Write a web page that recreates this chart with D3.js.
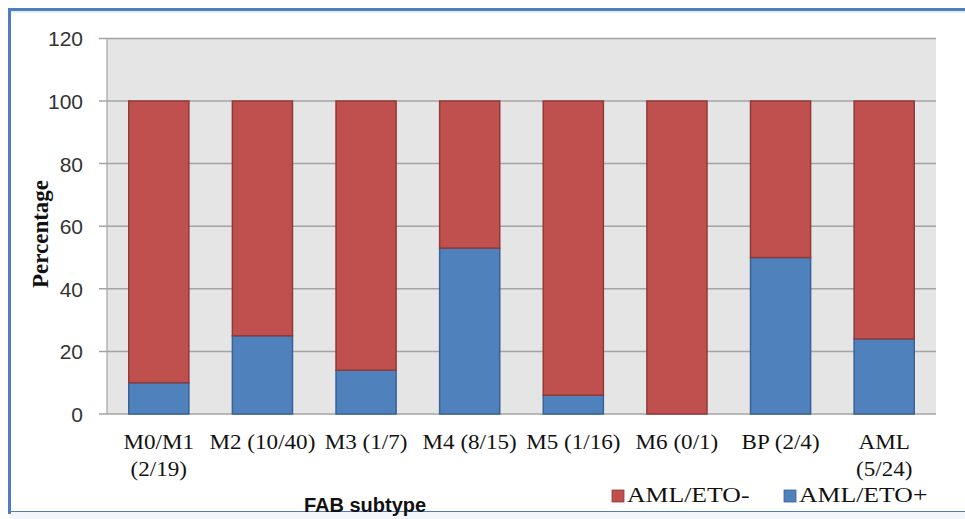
<!DOCTYPE html>
<html>
<head>
<meta charset="utf-8">
<script src="https://cdn.jsdelivr.net/npm/d3@7"></script>
<style>
  html, body { margin: 0; padding: 0; background: #ffffff; }
  svg { display: block; }
</style>
</head>
<body>
<svg id="chart" width="965" height="519"></svg>
<script>
// FAB subtypes with AML/ETO positive count over total
const categories = ["M0/M1|(2/19)", "M2 (10/40)", "M3 (1/7)", "M4 (8/15)", "M5 (1/16)", "M6 (0/1)", "BP (2/4)", "AML|(5/24)"];
// percentage of AML/ETO+ cases per subtype
const positive = [10, 25, 14, 53, 6, 0, 50, 24];
// percentage of AML/ETO- cases per subtype
const negative = [90, 75, 86, 47, 94, 100, 50, 76];
const yTicks = [0, 20, 40, 60, 80, 100, 120];
const seriesNames = ["AML/ETO-", "AML/ETO+"];

const colors = { "AML/ETO+": "#4F81BD", "AML/ETO-": "#C0504D" };
const strokes = { "AML/ETO+": "#3B6294", "AML/ETO-": "#8E3B39" };

const svg = d3.select("#chart");
const W = 965, H = 519;
const plot = { left: 107, right: 936, top: 38.4, bottom: 414 };

// outer frame
svg.append("rect").attr("x", 0).attr("y", 0).attr("width", W).attr("height", H).attr("fill", "#ffffff");
svg.append("rect")
  .attr("x", 9.5).attr("y", 9.5).attr("width", W + 20).attr("height", 503)
  .attr("fill", "#ffffff").attr("stroke", "#4F7EBE").attr("stroke-width", 3);
svg.append("line").attr("x1", 11).attr("x2", W).attr("y1", 12).attr("y2", 12)
  .attr("stroke", "#dfe7f2").attr("stroke-width", 1.5);
svg.append("rect").attr("x", 11).attr("y", 512).attr("width", W).attr("height", 7).attr("fill", "#f3f7fb");

const x = d3.scaleBand().domain(categories).range([plot.left, plot.right]).paddingInner(0.42).paddingOuter(0.21);
const y = d3.scaleLinear().domain([0, 120]).range([plot.bottom, plot.top]);

// plot area
svg.append("rect")
  .attr("x", plot.left).attr("y", plot.top)
  .attr("width", plot.right - plot.left).attr("height", plot.bottom - plot.top)
  .attr("fill", "#E5E5E5");

// gridlines
svg.append("g").selectAll("line").data(yTicks).join("line")
  .attr("x1", plot.left - 8).attr("x2", plot.right)
  .attr("y1", d => y(d)).attr("y2", d => y(d))
  .attr("stroke", "#A4A4A4").attr("stroke-width", 1.5);
svg.append("line").attr("x1", plot.left).attr("x2", plot.left)
  .attr("y1", plot.top).attr("y2", plot.bottom)
  .attr("stroke", "#A4A4A4").attr("stroke-width", 1.2);

// y axis labels
const yAxis = d3.axisLeft(y).tickValues(yTicks).tickSize(0).tickPadding(24);
const gy = svg.append("g").attr("transform", `translate(${plot.left},0)`).call(yAxis);
gy.select(".domain").remove();
gy.selectAll("text")
  .attr("font-family", "'Liberation Sans', Arial, sans-serif")
  .attr("font-size", 21).attr("fill", "#333333").attr("dy", "0.36em");

// stacked bars
const rows = categories.map((c, i) => ({ cat: c, "AML/ETO+": positive[i], "AML/ETO-": negative[i] }));
const stack = d3.stack().keys(["AML/ETO+", "AML/ETO-"]);
const layers = stack(rows);
svg.append("g").selectAll("g").data(layers).join("g")
  .attr("fill", d => colors[d.key]).attr("stroke", d => strokes[d.key]).attr("stroke-width", 1.5)
  .selectAll("rect").data(d => d.filter(s => s[1] - s[0] > 0)).join("rect")
  .attr("x", d => x(d.data.cat)).attr("width", x.bandwidth())
  .attr("y", d => y(d[1])).attr("height", d => y(d[0]) - y(d[1]));

// category labels (serif, slightly wide)
const serif = "'Liberation Serif', 'Times New Roman', serif";
const xl = svg.append("g");
categories.forEach(c => {
  const lines = c.split("|");
  const cx = x(c) + x.bandwidth() / 2;
  lines.forEach((ln, j) => {
    xl.append("text")
      .attr("transform", `translate(${cx},${449 + j * 27}) scale(1.1,1)`)
      .attr("text-anchor", "middle")
      .attr("font-family", serif).attr("font-size", 21).attr("fill", "#111111")
      .text(ln);
  });
});

// axis titles
svg.append("text")
  .attr("x", 365).attr("y", 512).attr("text-anchor", "middle")
  .attr("font-family", "'Liberation Sans', Arial, sans-serif").attr("font-weight", "bold")
  .attr("font-size", 20).attr("fill", "#111111")
  .text("FAB subtype");
svg.append("text")
  .attr("transform", "translate(48,234) rotate(-90)")
  .attr("text-anchor", "middle")
  .attr("font-family", serif).attr("font-weight", "bold")
  .attr("font-size", 23).attr("fill", "#111111")
  .text("Percentage");

// legend
const legendX = [612, 784];
seriesNames.forEach((name, i) => {
  const g = svg.append("g");
  g.append("rect").attr("x", legendX[i]).attr("y", 490).attr("width", 12).attr("height", 12)
    .attr("fill", colors[name]).attr("stroke", strokes[name]).attr("stroke-width", 0.8);
  g.append("text")
    .attr("transform", `translate(${legendX[i] + 15},502) scale(1.17,1)`)
    .attr("font-family", serif).attr("font-size", 22).attr("fill", "#111111")
    .text(name);
});
</script>
</body>
</html>
